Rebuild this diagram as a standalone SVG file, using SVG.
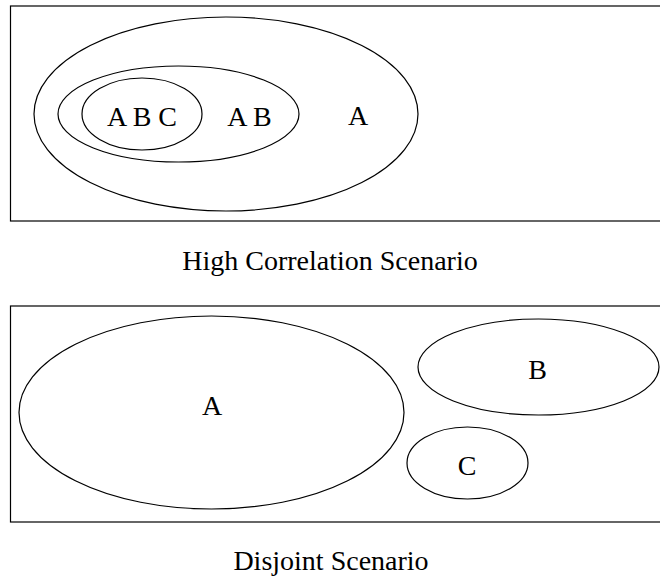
<svg xmlns="http://www.w3.org/2000/svg" width="660" height="580" viewBox="0 0 660 580">
  <style>
    .frame { fill: none; stroke: #000; stroke-width: 1.2; }
    .set { fill: none; stroke: #000; stroke-width: 1.2; }
    .lbl { font-family: "Liberation Serif", "Times New Roman", serif; font-size: 28px; fill: #000; text-anchor: middle; }
  </style>
  <rect width="660" height="580" fill="#fff"/>

  <!-- Panel 1: nested sets -->
  <g id="panel-high">
    <rect class="frame" x="10.5" y="6" width="670" height="215"/>
    <g id="set-A-outer">
      <ellipse class="set" cx="226" cy="114" rx="192" ry="97"/>
      <text class="lbl" x="358" y="125">A</text>
    </g>
    <g id="set-AB">
      <ellipse class="set" cx="178.5" cy="114" rx="120.5" ry="48"/>
      <text class="lbl" x="249.5" y="126">A B</text>
    </g>
    <g id="set-ABC">
      <ellipse class="set" cx="142" cy="114" rx="60" ry="36"/>
      <text class="lbl" x="142" y="126">A B C</text>
    </g>
  </g>
  <text id="caption-high" class="lbl" x="330" y="269.5">High Correlation Scenario</text>

  <!-- Panel 2: disjoint sets -->
  <g id="panel-disjoint">
    <rect class="frame" x="10.5" y="306" width="670" height="216"/>
    <g id="set-A">
      <ellipse class="set" cx="211.5" cy="412.5" rx="192.5" ry="96.5"/>
      <text class="lbl" x="212" y="415">A</text>
    </g>
    <g id="set-B">
      <ellipse class="set" cx="538.5" cy="367" rx="120.5" ry="48"/>
      <text class="lbl" x="537.5" y="379">B</text>
    </g>
    <g id="set-C">
      <ellipse class="set" cx="467.5" cy="463" rx="60.5" ry="36"/>
      <text class="lbl" x="467" y="475">C</text>
    </g>
  </g>
  <text id="caption-disjoint" class="lbl" x="331" y="569.5">Disjoint Scenario</text>

  <g id="connectors"/>
</svg>
